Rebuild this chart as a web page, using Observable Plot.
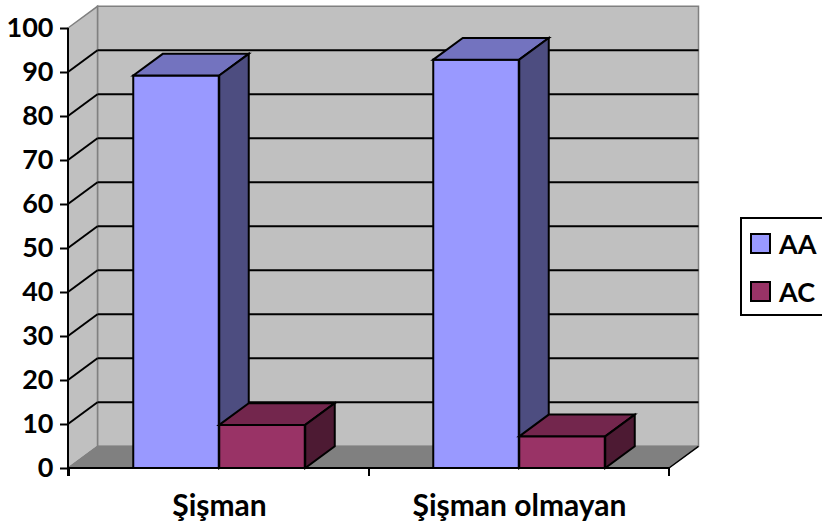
<!DOCTYPE html>
<html>
<head>
<meta charset="utf-8">
<script src="https://cdn.jsdelivr.net/npm/d3@7"></script>
<script src="https://cdn.jsdelivr.net/npm/@observablehq/plot@0.6"></script>
<style>
  html, body { margin: 0; padding: 0; background: #fff; overflow: hidden; }
</style>
</head>
<body>
<div id="chart"></div>
<script>
// Data
const categories = ["Şişman", "Şişman olmayan"];
const series = ["AA", "AC"];
const valuesAA = [89.2, 92.8];
const valuesAC = [9.8, 7.2];
const yTicks = [0, 10, 20, 30, 40, 50, 60, 70, 80, 90, 100];

// Face colours for each series (front, top, side)
const palette = {
  AA: {front: "#9999ff", top: "#7373bf", side: "#4d4d80"},
  AC: {front: "#993366", top: "#73264d", side: "#4d1a33"}
};

const rows = categories.flatMap((c, i) => [
  {category: c, series: "AA", value: valuesAA[i]},
  {category: c, series: "AC", value: valuesAC[i]}
]);

// Layout of the 3-D box
const W = 822, H = 524;
const M = {top: 28, right: 153, bottom: 56, left: 68};
const DX = 29.5, DY = -21.7;          // depth offset of the back wall
const BAR_W = 86;                     // width of one bar's front face
const bandW = (W - M.left - M.right) / categories.length;
const outer = (bandW - 2 * BAR_W) / 2;
const insets = {
  AA: {insetLeft: outer, insetRight: bandW - outer - BAR_W},
  AC: {insetLeft: outer + BAR_W, insetRight: outer}
};

const pickScales = (args) => args.find(a => a && typeof a.x === "function" && typeof a.y === "function");
const poly = (g, pts, fill, stroke, sw) =>
  g.append("polygon").attr("points", pts.map(p => p.join(",")).join(" "))
    .attr("fill", fill).attr("stroke", stroke).attr("stroke-width", sw).attr("stroke-linejoin", "miter");
const line = (g, x1, y1, x2, y2, stroke, sw) =>
  g.append("line").attr("x1", x1).attr("y1", y1).attr("x2", x2).attr("y2", y2)
    .attr("stroke", stroke).attr("stroke-width", sw);

// Walls, floor and gridlines behind the bars
function walls(...args) {
  const s = pickScales(args);
  const g = d3.create("svg:g");
  const [xl, xr] = s.x.range();
  const y0 = s.y(0), y1 = s.y(100);
  poly(g, [[xl + DX, y1 + DY], [xr + DX, y1 + DY], [xr + DX, y0 + DY], [xl + DX, y0 + DY]], "#c0c0c0", "#808080", 1.5);
  poly(g, [[xl, y1], [xl + DX, y1 + DY], [xl + DX, y0 + DY], [xl, y0]], "#c0c0c0", "#808080", 1.5);
  poly(g, [[xl, y0], [xl + DX, y0 + DY], [xr + DX, y0 + DY], [xr, y0]], "#808080", "#808080", 1);
  for (const t of yTicks) {
    if (t === 0 || t === 100) continue;
    const y = s.y(t);
    line(g, xl, y, xl + DX, y + DY, "#000", 2);
    line(g, xl + DX, y + DY, xr + DX, y + DY, "#000", 2);
  }
  return g.node();
}

// Top and side faces of the bars of one series
function depthFaces(name, values) {
  return function(...args) {
    const s = pickScales(args);
    const g = d3.create("svg:g");
    const c = palette[name];
    categories.forEach((cat, i) => {
      const x0 = s.x(cat) + insets[name].insetLeft;
      const x1 = x0 + BAR_W;
      const yt = s.y(values[i]), yb = s.y(0);
      poly(g, [[x0, yt], [x0 + DX, yt + DY], [x1 + DX, yt + DY], [x1, yt]], c.top, "#000", 2);
      poly(g, [[x1, yt], [x1 + DX, yt + DY], [x1 + DX, yb + DY], [x1, yb]], c.side, "#000", 2);
    });
    return g.node();
  };
}

// Axis lines, category separators and the legend
function frontAxes(...args) {
  const s = pickScales(args);
  const g = d3.create("svg:g");
  const [xl, xr] = s.x.range();
  const y0 = s.y(0), y1 = s.y(100);
  line(g, xl, y1, xl, y0 + 8, "#000", 2);
  line(g, xl, y0, xr, y0, "#000", 2);
  line(g, xr, y0, xr + DX, y0 + DY, "#000", 1.5);
  categories.forEach(cat => line(g, s.x(cat), y0, s.x(cat), y0 + 8, "#000", 2));
  line(g, xr, y0, xr, y0 + 8, "#000", 2);

  const lg = g.append("g");
  lg.append("rect").attr("x", 741).attr("y", 218).attr("width", 110).attr("height", 97)
    .attr("fill", "#fff").attr("stroke", "#000").attr("stroke-width", 2);
  series.forEach((name, i) => {
    const yy = 234 + i * 48;
    lg.append("rect").attr("x", 751).attr("y", yy).attr("width", 19).attr("height", 19)
      .attr("fill", palette[name].front).attr("stroke", "#000").attr("stroke-width", 2);
    lg.append("text").attr("x", 779).attr("y", yy + 20).text(name)
      .attr("text-anchor", "start")
      .attr("font-family", "Lato").attr("font-weight", 700).attr("font-size", 27).attr("fill", "#000");
  });
  return g.node();
}

const chart = Plot.plot({
  width: W,
  height: H,
  marginTop: M.top,
  marginRight: M.right,
  marginBottom: M.bottom,
  marginLeft: M.left,
  style: {fontFamily: "Lato", background: "#fff", color: "#000", overflow: "visible"},
  x: {domain: categories, padding: 0, label: null},
  y: {domain: [0, 100], label: null},
  marks: [
    walls,
    Plot.barY(rows.filter(d => d.series === "AA"), {
      x: "category", y: "value", fill: palette.AA.front, stroke: "#000", strokeWidth: 2, ...insets.AA
    }),
    depthFaces("AA", valuesAA),
    Plot.barY(rows.filter(d => d.series === "AC"), {
      x: "category", y: "value", fill: palette.AC.front, stroke: "#000", strokeWidth: 2, ...insets.AC
    }),
    depthFaces("AC", valuesAC),
    frontAxes,
    Plot.axisY({ticks: yTicks, tickSize: 8, tickPadding: 7, fontSize: 27, fontWeight: 700, strokeWidth: 2, label: null}),
    Plot.axisX({tickSize: 0, tickPadding: 26, fontSize: 30, fontWeight: 700, label: null})
  ]
});

document.getElementById("chart").appendChild(chart);
</script>
</body>
</html>
